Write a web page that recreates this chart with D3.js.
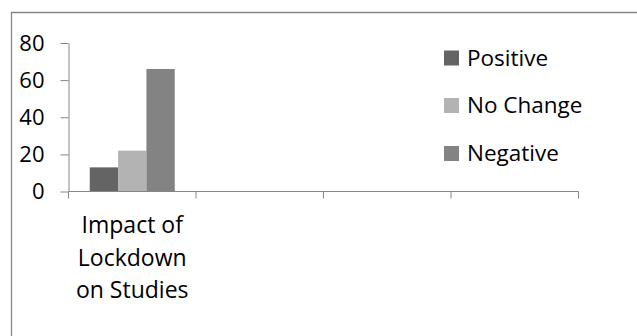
<!DOCTYPE html>
<html>
<head>
<meta charset="utf-8">
<script src="https://cdn.jsdelivr.net/npm/d3@7"></script>
<style>
  html, body { margin: 0; padding: 0; background: #fff; }
  svg { display: block; }
  text { font-family: "Open Sans", sans-serif; fill: #000; }
</style>
</head>
<body>
<script>
// ---- data ----
const categories = ["Impact of Lockdown on Studies", "", "", ""];
const categoryLines = [["Impact of", "Lockdown", "on Studies"], [], [], []];
const seriesNames = ["Positive", "No Change", "Negative"];
const positive = [13, null, null, null];
const noChange = [22, null, null, null];
const negative = [66, null, null, null];
const yTicks = [0, 20, 40, 60, 80];
const seriesColors = ["#646464", "#b3b3b3", "#838383"];

const W = 637, H = 336;
const svg = d3.select("body").append("svg").attr("width", W).attr("height", H);

// outer chart border (left + top visible)
svg.append("path")
  .attr("d", `M11.5,${H} V12.5 H${W}`)
  .attr("fill", "none").attr("stroke", "#868686").attr("stroke-width", 1.3);

const x0 = 68.5, x1 = 578.5, yBottom = 191.5, yTop = 43;
const x = d3.scaleBand().domain(d3.range(categories.length)).range([x0, x1]).padding(0);
const y = d3.scaleLinear().domain([0, 80]).range([yBottom, yTop]);

const gap = 1.5; // gap width 150%
const barW = x.bandwidth() / (seriesNames.length + gap);
const xs = d3.scaleBand().domain(seriesNames)
  .range([barW * gap / 2, barW * gap / 2 + barW * seriesNames.length]).padding(0);

const seriesData = [positive, noChange, negative];

// bars
seriesNames.forEach((name, si) => {
  const vals = seriesData[si];
  svg.append("g").selectAll("rect")
    .data(vals.map((v, i) => ({ v, i })).filter(d => d.v != null))
    .join("rect")
    .attr("x", d => x(d.i) + xs(name))
    .attr("width", xs.bandwidth())
    .attr("y", d => y(d.v))
    .attr("height", d => y(0) - y(d.v))
    .attr("fill", seriesColors[si]);
});

// y axis
const yAxis = svg.append("g").attr("transform", `translate(${x0},0)`)
  .call(d3.axisLeft(y).tickValues(yTicks).tickSize(8).tickSizeOuter(0).tickPadding(16));
yAxis.select(".domain").attr("stroke", "#868686");
yAxis.selectAll(".tick line").attr("stroke", "#868686");
yAxis.selectAll(".tick text").style("font-size", "22px").style("font-family", "'Open Sans', sans-serif").attr("fill", "#000");

// x axis line with ticks at category boundaries
const xBoundaries = d3.range(categories.length + 1).map(i => i === categories.length ? x1 : x(i));
svg.append("line").attr("x1", x0).attr("x2", x1).attr("y1", yBottom).attr("y2", yBottom)
  .attr("stroke", "#868686");
svg.append("g").selectAll("line").data(xBoundaries).join("line")
  .attr("x1", d => d).attr("x2", d => d)
  .attr("y1", yBottom).attr("y2", yBottom + 7)
  .attr("stroke", "#868686");

// category labels
categoryLines.forEach((lines, i) => {
  if (!lines.length) return;
  const t = svg.append("text")
    .attr("text-anchor", "middle")
    .style("font-size", "23px");
  lines.forEach((ln, k) => {
    t.append("tspan")
      .attr("x", x(i) + x.bandwidth() / 2)
      .attr("y", 233 + k * 32.6)
      .text(ln);
  });
});

// legend
const legend = svg.append("g").attr("transform", "translate(444,0)");
const legendY = [58, 105.5, 153.5];
seriesNames.forEach((name, i) => {
  legend.append("rect")
    .attr("x", 0).attr("y", legendY[i] - 7.5)
    .attr("width", 15).attr("height", 15)
    .attr("fill", seriesColors[i]);
  legend.append("text")
    .attr("x", 23).attr("y", legendY[i])
    .attr("dy", "0.35em")
    .style("font-size", "22.5px")
    .text(name);
});
</script>
</body>
</html>
